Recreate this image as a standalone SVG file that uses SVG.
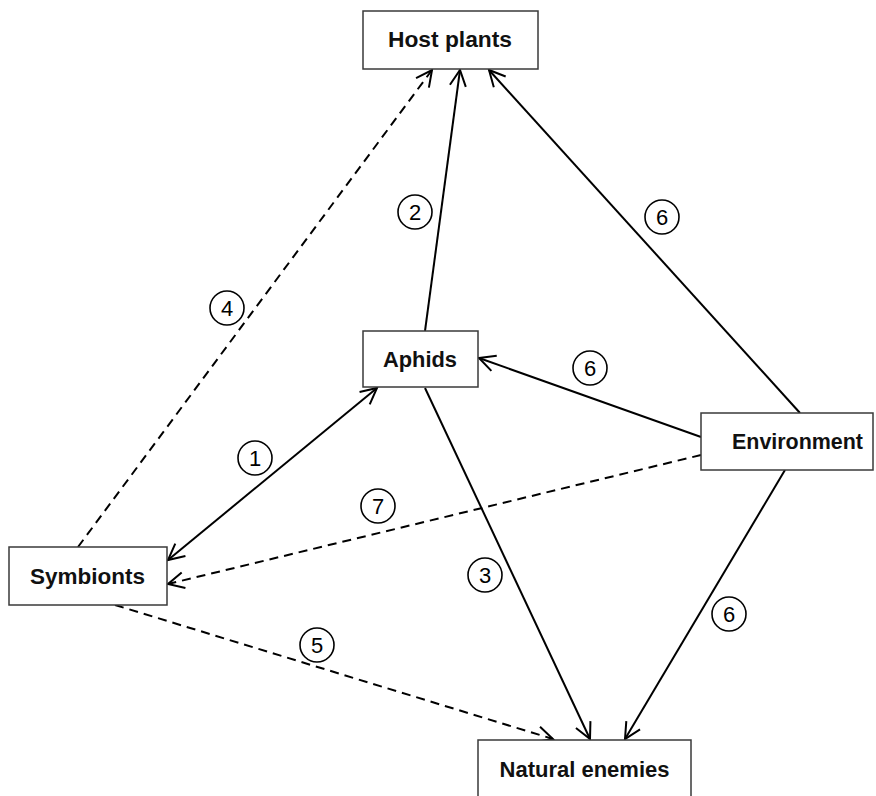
<svg xmlns="http://www.w3.org/2000/svg" width="876" height="796" viewBox="0 0 876 796">
<style>
.box{fill:#fff;stroke:#3a3a3a;stroke-width:1.5}
.lbl{font-family:"Liberation Sans",Arial,sans-serif;font-weight:bold;font-size:22px;fill:#111;text-anchor:middle}
.c{fill:#fff;stroke:#000;stroke-width:1.6}
.n{font-family:"Liberation Sans",Arial,sans-serif;font-size:22px;fill:#000;text-anchor:middle}
.ln{fill:none;stroke:#000;stroke-width:2}
.d{stroke-dasharray:9,6}
</style>
<defs>
<marker id="a" viewBox="0 0 20 20" refX="18" refY="10" markerWidth="20" markerHeight="20" markerUnits="userSpaceOnUse" orient="auto-start-reverse">
<path d="M2,2 L18,10 L2,18" fill="none" stroke="#000" stroke-width="2"/>
</marker>
</defs>
<rect width="876" height="796" fill="#fff"/>
<g id="connectors">
<line class="ln" x1="425" y1="331" x2="460" y2="70" marker-end="url(#a)"/>
<line class="ln d" x1="78" y1="547" x2="432" y2="70" marker-end="url(#a)"/>
<line class="ln" x1="800" y1="413" x2="489" y2="70" marker-end="url(#a)"/>
<line class="ln" x1="701" y1="437" x2="479" y2="358" marker-end="url(#a)"/>
<line class="ln" x1="168" y1="560" x2="377" y2="388" marker-start="url(#a)" marker-end="url(#a)"/>
<line class="ln d" x1="701" y1="455" x2="168" y2="584" marker-end="url(#a)"/>
<line class="ln" x1="425" y1="388" x2="590" y2="739" marker-end="url(#a)"/>
<line class="ln" x1="785" y1="470" x2="625" y2="739" marker-end="url(#a)"/>
<line class="ln d" x1="115" y1="605" x2="553" y2="739" marker-end="url(#a)"/>
</g>
<g id="host-plants"><rect class="box" x="363" y="11" width="175" height="58"/><text class="lbl" x="450" y="47" textLength="124" lengthAdjust="spacingAndGlyphs">Host plants</text></g>
<g id="aphids"><rect class="box" x="363" y="331" width="115" height="56"/><text class="lbl" x="420" y="367" textLength="74" lengthAdjust="spacingAndGlyphs">Aphids</text></g>
<g id="environment"><rect class="box" x="701" y="413" width="172" height="57"/><text class="lbl" x="797.5" y="449" textLength="131" lengthAdjust="spacingAndGlyphs">Environment</text></g>
<g id="symbionts"><rect class="box" x="9" y="547" width="158" height="58"/><text class="lbl" x="87.5" y="584" textLength="115" lengthAdjust="spacingAndGlyphs">Symbionts</text></g>
<g id="natural-enemies"><rect class="box" x="478" y="740" width="213" height="70"/><text class="lbl" x="584.5" y="777">Natural enemies</text></g>
<g id="labels">
<circle class="c" cx="415" cy="212" r="17"/><text class="n" x="415" y="220">2</text>
<circle class="c" cx="227" cy="308" r="17"/><text class="n" x="227" y="316">4</text>
<circle class="c" cx="662" cy="217" r="17"/><text class="n" x="662" y="225">6</text>
<circle class="c" cx="590" cy="368" r="17"/><text class="n" x="590" y="376">6</text>
<circle class="c" cx="255" cy="458" r="17"/><text class="n" x="255" y="466">1</text>
<circle class="c" cx="378" cy="506" r="17"/><text class="n" x="378" y="514">7</text>
<circle class="c" cx="485" cy="575" r="17"/><text class="n" x="485" y="583">3</text>
<circle class="c" cx="317" cy="645" r="17"/><text class="n" x="317" y="653">5</text>
<circle class="c" cx="729" cy="614" r="17"/><text class="n" x="729" y="622">6</text>
</g>
</svg>
